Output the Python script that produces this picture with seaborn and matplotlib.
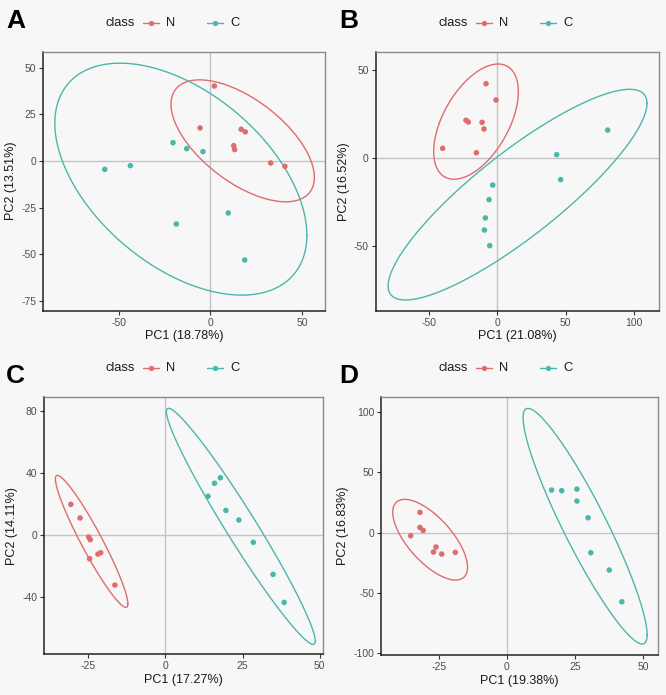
import numpy as np
import pandas as pd
import matplotlib
matplotlib.use("Agg")
import matplotlib.pyplot as plt
from matplotlib.lines import Line2D
import seaborn as sns

# ---------------- data ----------------
# Panel A
a_n_x = [2.1, -5.7, 16.8, 19.0, 12.7, 13.2, 32.9, 40.7]
a_n_y = [40.2, 17.7, 17.0, 15.6, 8.2, 6.1, -1.1, -2.9]
a_c_x = [-20.5, -13.0, -4.1, -57.8, -43.8, -18.7, 9.7, 18.7]
a_c_y = [9.8, 6.6, 5.0, -4.5, -2.5, -33.8, -27.9, -53.1]
# Panel B
b_n_x = [-8.3, -1.0, -23.0, -21.3, -11.2, -9.8, -40.1, -15.4]
b_n_y = [42.1, 32.8, 21.3, 20.3, 20.1, 16.3, 5.3, 2.8]
b_c_x = [80.9, 43.5, 46.4, -3.4, -6.1, -8.8, -9.5, -5.6]
b_c_y = [15.7, 1.7, -12.5, -15.6, -23.9, -34.3, -41.2, -50.1]
# Panel C
c_n_x = [-30.7, -27.7, -24.9, -24.4, -21.9, -21.0, -24.6, -16.4]
c_n_y = [19.8, 11.0, -1.3, -3.0, -12.3, -11.4, -15.3, -32.3]
c_c_x = [17.8, 15.9, 13.8, 19.6, 23.8, 28.5, 34.9, 38.5]
c_c_y = [37.0, 33.4, 25.0, 15.9, 9.7, -4.7, -25.4, -43.5]
# Panel D
d_n_x = [-32.0, -32.0, -30.8, -35.4, -26.1, -27.0, -24.0, -19.0]
d_n_y = [16.9, 4.4, 1.9, -2.5, -11.9, -16.0, -17.7, -16.3]
d_c_x = [16.4, 20.1, 25.7, 25.7, 29.8, 30.8, 37.6, 42.2]
d_c_y = [35.4, 34.9, 36.2, 26.3, 12.4, -16.6, -31.0, -57.3]

# Ellipse parameters per panel/class: centre x, centre y, half-extent x, half-extent y, correlation
ell_a_n = [17.6, 10.8, 39.2, 32.7, -0.60]
ell_a_c = [-16.2, -9.75, 68.9, 62.2, -0.483]
ell_b_n = [-15.65, 20.5, 31.05, 32.8, 0.52]
ell_b_c = [14.8, -21.05, 94.9, 59.95, 0.866]
ell_c_n = [-23.95, -4.1, 11.75, 42.6, -0.945]
ell_c_c = [24.45, 5.6, 24.15, 76.2, -0.971]
ell_d_n = [-28.25, -5.8, 13.75, 33.5, -0.68]
ell_d_c = [28.7, 5.4, 22.8, 97.8, -0.921]

classes = ["N", "C"]
panel_letters = ["A", "B", "C", "D"]
x_labels = ["PC1 (18.78%)", "PC1 (21.08%)", "PC1 (17.27%)", "PC1 (19.38%)"]
y_labels = ["PC2 (13.51%)", "PC2 (16.52%)", "PC2 (14.11%)", "PC2 (16.83%)"]
x_ticks = [[-50, 0, 50], [-50, 0, 50, 100], [-25, 0, 25, 50], [-25, 0, 25, 50]]
y_ticks = [[-75, -50, -25, 0, 25, 50], [-50, 0, 50], [-40, 0, 40, 80],
           [-100, -50, 0, 50, 100]]
x_lims = [(-91.4, 62.6), (-89.2, 118.5), (-39.4, 51.0), (-46.2, 55.5)]
y_lims = [(-80.3, 58.6), (-87.1, 60.3), (-76.8, 88.9), (-101.5, 112.9)]

points = [
    (a_n_x, a_n_y, a_c_x, a_c_y),
    (b_n_x, b_n_y, b_c_x, b_c_y),
    (c_n_x, c_n_y, c_c_x, c_c_y),
    (d_n_x, d_n_y, d_c_x, d_c_y),
]
ellipses = [(ell_a_n, ell_a_c), (ell_b_n, ell_b_c), (ell_c_n, ell_c_c), (ell_d_n, ell_d_c)]

# ---------------- style ----------------
BG = "#F7F7F7"
palette = {"N": "#E06C6C", "C": "#4DB6AC"}
sns.set_theme(style="white")
plt.rcParams["font.family"] = ["Liberation Sans", "DejaVu Sans"]
plt.rcParams["axes.unicode_minus"] = False

fig = plt.figure(figsize=(6.66, 6.95), dpi=100, facecolor=BG)

W, H = 666.0, 695.0
frames = [  # left, top, right, bottom in pixels
    (43.3, 51.7, 325.0, 310.7),
    (375.7, 51.7, 659.0, 310.7),
    (44.0, 397.3, 322.7, 654.0),
    (381.3, 396.7, 658.0, 655.0),
]


def ellipse_frame(p, cls):
    cx, cy, sx, sy, r = p
    cov = np.array([[sx * sx, r * sx * sy], [r * sx * sy, sy * sy]])
    L = np.linalg.cholesky(cov)
    t = np.linspace(0, 2 * np.pi, 241)
    pts = L @ np.vstack([np.cos(t), np.sin(t)])
    return pd.DataFrame({"x": pts[0] + cx, "y": pts[1] + cy, "class": cls,
                         "order": np.arange(len(t))})


for i in range(4):
    l, t_, r_, b_ = frames[i]
    ax = fig.add_axes([l / W, 1 - b_ / H, (r_ - l) / W, (b_ - t_) / H])
    ax.set_facecolor(BG)
    nx, ny, cx_, cy_ = points[i]
    df = pd.concat([
        pd.DataFrame({"x": nx, "y": ny, "class": "N"}),
        pd.DataFrame({"x": cx_, "y": cy_, "class": "C"}),
    ], ignore_index=True)

    ax.axhline(0, color="#C4C4C4", lw=1.0, zorder=0)
    ax.axvline(0, color="#C4C4C4", lw=1.0, zorder=0)

    ell = pd.concat([ellipse_frame(ellipses[i][0], "N"),
                     ellipse_frame(ellipses[i][1], "C")], ignore_index=True)
    for cls in classes:
        sub = ell[ell["class"] == cls]
        sns.lineplot(data=sub, x="x", y="y", sort=False, estimator=None,
                     color=palette[cls], lw=1.0, ax=ax, legend=False)

    sns.scatterplot(data=df, x="x", y="y", hue="class", palette=palette,
                    s=16, linewidth=0, ax=ax, legend=False, zorder=3)

    ax.set_xlim(*x_lims[i])
    ax.set_ylim(*y_lims[i])
    ax.set_xticks(x_ticks[i])
    ax.set_yticks(y_ticks[i])
    ax.tick_params(axis="both", which="both", direction="out", length=3, width=0.8,
                   color="#333333", labelsize=7.5, labelcolor="#4D4D4D", pad=2,
                   bottom=True, left=True)
    ax.set_xlabel(x_labels[i], fontsize=9.0, color="#1A1A1A", labelpad=2)
    ax.set_ylabel(y_labels[i], fontsize=9.0, color="#1A1A1A", labelpad=3)
    for side in ["left", "bottom"]:
        ax.spines[side].set_color("#222222")
        ax.spines[side].set_linewidth(1.1)
    for side in ["top", "right"]:
        ax.spines[side].set_color("#8A8A8A")
        ax.spines[side].set_linewidth(1.0)
    ax.grid(False)

    # panel letter
    col = 0 if i % 2 == 0 else 1
    row = 0 if i < 2 else 1
    xoff = 0 if col == 0 else 333
    yoff = 0 if row == 0 else 355
    fig.text((6 + xoff) / W, 1 - (28.3 + yoff) / H, panel_letters[i], fontsize=19,
             fontweight="bold", color="black", ha="left", va="baseline")

    # legend: "class" + N + C
    lyoff = 0 if row == 0 else 346
    ly = 1 - (22.5 + lyoff) / H
    fig.text((105 + xoff) / W, ly, "class", fontsize=9.3, color="#1A1A1A",
             ha="left", va="center")
    for cls, x0 in zip(classes, [143, 207]):
        fig.add_artist(Line2D([(x0 + xoff) / W, (x0 + 16 + xoff) / W], [ly, ly],
                              color=palette[cls], lw=1.0, transform=fig.transFigure))
        fig.add_artist(Line2D([(x0 + 8 + xoff) / W], [ly], marker="o", markersize=3.8,
                              markeredgewidth=0, color=palette[cls],
                              transform=fig.transFigure))
        fig.text((x0 + 23 + xoff) / W, ly, cls, fontsize=9.3, color="#1A1A1A",
                 ha="left", va="center")

fig.savefig("out.png", dpi=100, facecolor=BG)
